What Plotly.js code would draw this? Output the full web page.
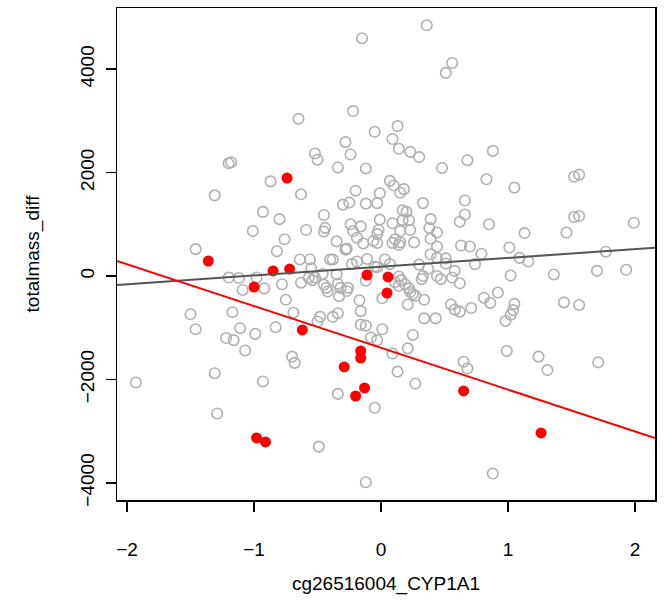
<!DOCTYPE html>
<html>
<head>
<meta charset="utf-8">
<script src="https://cdn.plot.ly/plotly-3.0.1.min.js"></script>
<style>html,body{margin:0;padding:0;background:#fff;}#chart{width:664px;height:603px;}</style>
</head>
<body>
<div id="chart"></div>
<script>
// All samples (grey open circles)
const allX = [-0.15,0.36,0.56,0.51,-0.65,-0.22,-0.05,0.13,0.09,-0.28,-0.52,-0.50,-0.24,-0.34,-0.12,-1.20,-1.18,0.14,0.23,0.30,
0.48,0.68,0.88,0.83,1.05,1.52,1.56,0.07,0.10,0.18,0.15,0.33,0.66,0.66,0.62,0.85,1.13,1.46,1.52,1.56,
1.99,0.17,0.20,0.09,0.17,0.22,0.39,0.38,0.44,0.15,0.23,0.11,0.09,0.14,0.15,0.26,0.39,0.44,0.63,0.70,
0.39,0.44,0.51,0.79,1.01,1.09,1.16,1.77,1.70,1.93,1.36,1.02,0.74,0.51,0.58,0.56,0.62,0.44,0.47,0.33,
0.32,0.37,0.30,0.03,0.07,0.14,0.16,0.11,0.14,0.19,0.22,0.23,0.25,0.27,0.21,0.34,0.34,0.43,0.55,0.58,
0.62,0.71,0.81,0.86,0.92,1.05,1.04,1.02,0.98,1.44,1.56,0.01,0.25,0.21,0.09,0.99,0.65,0.68,0.13,0.27,
1.24,1.31,1.71,0.88,-0.05,-0.12,-0.49,-0.34,-1.29,-0.93,-1.93,-1.31,-0.70,-0.68,-1.07,-1.22,-1.16,-1.11,-0.99,-0.83,
-1.46,-0.50,-0.16,-0.12,-0.08,-0.03,-1.50,-1.17,-0.69,-0.75,-0.48,-0.38,-0.34,-0.16,-0.17,-0.33,-0.27,-0.26,-0.42,-0.45,
-0.43,-0.34,-0.32,-0.63,-0.78,-0.92,-1.09,-1.20,-1.12,-0.98,-0.57,-0.54,-0.52,-0.46,-0.35,-0.23,-0.05,-0.03,-0.11,-0.12,
-0.55,-0.64,-0.56,-0.40,-0.38,-0.19,-0.82,-0.28,-0.27,-0.35,-0.76,-0.19,-0.14,-0.06,-0.03,-1.46,-1.01,-0.93,-0.80,-0.59,
-0.45,-0.44,-0.45,-0.30,-0.25,-0.12,-0.03,-0.24,-0.16,-0.22,-0.01,-0.02,-0.03,-0.20,-0.01,-0.63,-1.31,-0.87,0.01];
const allY = [4600,4850,4120,3930,3040,3190,2790,2900,2650,2590,2370,2250,2350,2100,2080,2180,2200,2460,2400,2300,
2090,2240,2420,1870,1710,1920,1960,1840,1750,1680,1610,1410,1460,1190,1050,1000,830,840,1140,1160,
1030,1270,1240,1020,1080,1080,1100,930,840,870,890,710,640,600,650,650,720,570,590,570,
420,350,340,430,550,350,280,470,100,120,30,10,230,240,100,-30,-140,0,-60,0,
-60,140,220,320,230,-10,-80,-120,-190,-160,-240,-310,-350,-380,-550,-460,-820,-820,-550,-650,
-690,-620,-420,-520,-320,-540,-660,-750,-870,-510,-560,-1030,-1140,-1400,-1500,-1450,-1660,-1790,-1850,-2080,
-1560,-1820,-1670,-3820,-2550,-3990,-3300,-2280,-2660,-2040,-2060,-1880,-1560,-1680,-1440,-1200,-1240,-1010,-1120,-990,
-1030,-880,-940,-960,-1190,-1240,-740,-700,-710,-460,-790,-790,-720,-680,-470,-390,-290,-230,-300,-170,
-230,-150,-230,-130,-160,-240,-270,-30,-40,-30,-40,-80,-30,40,30,230,180,170,330,-90,
150,320,320,320,320,280,480,510,530,670,710,740,630,680,640,520,870,1240,1100,890,
1180,930,860,1380,1420,1400,1410,1000,960,870,1090,890,810,1650,1600,1580,1560,1830,-430];

// Highlighted subgroup (red filled points)
const redX = [-0.74,-1.36,-0.85,-0.72,-1.00,-0.11,0.055,0.047,-0.62,-0.16,-0.16,-0.29,-0.13,-0.20,0.65,-0.98,-0.91,1.26];
const redY = [1895,290,97,135,-213,19,-19,-329,-1044,-1450,-1586,-1760,-2166,-2321,-2224,-3133,-3210,-3036];

// Fitted regression lines: [intercept, slope]
const fitAll = [180, 170];
const fitRed = [-1390, -808];

const xRange = [-2.079, 2.157];
const yRange = [-4333, 5184];
const xTicks = [-2, -1, 0, 1, 2];
const yTicks = [-4000, -2000, 0, 2000, 4000];

const lineY = f => xRange.map(x => f[0] + f[1] * x);

const traces = [
  {x: allX, y: allY, type: 'scatter', mode: 'markers',
   marker: {symbol: 'circle-open', size: 10.5, color: '#b0b0b0', line: {width: 1.6, color: '#b0b0b0'}},
   hoverinfo: 'skip'},
  {x: redX, y: redY, type: 'scatter', mode: 'markers',
   marker: {symbol: 'circle', size: 11, color: '#ff0000', line: {width: 0}}, hoverinfo: 'skip'},
  {x: xRange, y: lineY(fitAll), type: 'scatter', mode: 'lines',
   line: {color: '#555555', width: 2}, hoverinfo: 'skip'},
  {x: xRange, y: lineY(fitRed), type: 'scatter', mode: 'lines',
   line: {color: '#ff0000', width: 2}, hoverinfo: 'skip'}
];

const font = {family: 'Liberation Sans, Arial, Helvetica, sans-serif', size: 19, color: '#000'};

const layout = {
  width: 664, height: 603,
  margin: {l: 117, r: 9, t: 8, b: 103, pad: 0},
  paper_bgcolor: '#fff', plot_bgcolor: '#fff',
  showlegend: false,
  font: font,
  xaxis: {
    range: xRange, tickvals: xTicks, showgrid: false, zeroline: false,
    showline: true, mirror: true, linecolor: '#000', linewidth: 1.5,
    ticks: 'outside', ticklen: 10, tickwidth: 1.5, tickcolor: '#000',
    ticklabelstandoff: 22, tickfont: font,
    title: {text: 'cg26516004_CYP1A1', font: font, standoff: 17}
  },
  yaxis: {
    range: yRange, tickvals: yTicks, showgrid: false, zeroline: false,
    showline: true, mirror: true, linecolor: '#000', linewidth: 1.5,
    ticks: 'outside', ticklen: 10, tickwidth: 1.5, tickcolor: '#000',
    tickangle: -90, ticklabelstandoff: 4, tickfont: font,
    title: {text: 'totalmass_diff', font: font, standoff: 32}
  }
};

Plotly.newPlot('chart', traces, layout, {staticPlot: true, displayModeBar: false});
</script>
</body>
</html>
